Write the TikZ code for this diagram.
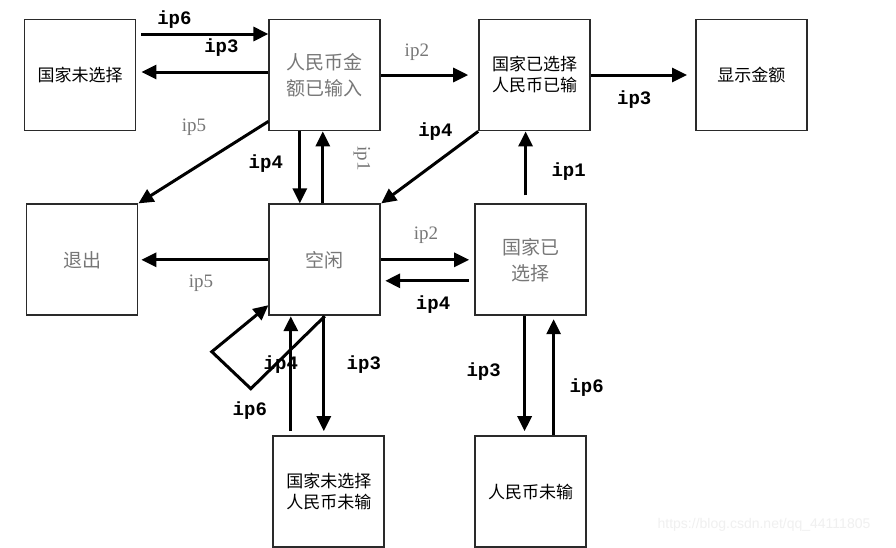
\documentclass[tikz,border=0pt]{standalone}
\usepackage{fontspec}
\setmainfont{Liberation Serif}
\newfontfamily\cjk{Noto Sans CJK SC}
\newfontfamily\codefont{Liberation Mono}
\newfontfamily\wmfont{Liberation Sans}
\usetikzlibrary{positioning, arrows.meta, calc}
\definecolor{framegray}{HTML}{2A2A2A}
\definecolor{softgray}{HTML}{777777}

\begin{document}
\begin{tikzpicture}[x=1pt, y=1pt,
  statebox/.style={rectangle, draw=framegray, line width=1.8pt,
                   minimum width=111pt, minimum height=111pt,
                   inner sep=0pt, align=center,
                   font=\cjk\fontsize{17}{21}\selectfont},
  dim/.style={text=softgray, font=\cjk\fontsize{19}{26}\selectfont},
  arr/.style={-{Triangle[length=15pt,width=14pt]}, line width=3pt},
  boldlbl/.style={font=\codefont\bfseries\fontsize{19}{19}\selectfont, inner sep=0pt},
  greylbl/.style={font=\fontsize{19}{19}\selectfont, text=softgray, inner sep=0pt},
  node distance=72pt and 132pt
]
  \useasboundingbox[fill=white] (0,0) rectangle (896,-547);

  % states
  \node[statebox] (nosel) at (80,-75) {国家未选择};
  \node[statebox, dim, right=132pt of nosel] (amount) {人民币金\\额已输入};
  \node[statebox, right=97pt of amount] (selpaid) {国家已选择\\人民币已输};
  \node[statebox, right=104pt of selpaid] (show) {显示金额};
  \node[statebox, dim, below=72pt of amount] (idle) {空闲};
  \node[statebox, dim, left=130pt of idle] (quit) {退出};
  \node[statebox, dim, right=93pt of idle] (sel) {国家已\\选择};
  \node[statebox, below=119pt of idle, xshift=4pt] (nonepaid) {国家未选择\\人民币未输};
  \node[statebox, below=119pt of sel] (unpaid) {人民币未输};

  % top row
  \draw[arr] ([xshift=5pt,yshift=41pt]nosel.east) --
    node[boldlbl, pos=.26, yshift=14pt] (l-ip6a) {ip6} ([yshift=41pt]amount.west);
  \draw[arr] ([yshift=3pt]amount.west) --
    node[boldlbl, pos=.37, yshift=24pt] (l-ip3a) {ip3} ([xshift=5pt,yshift=3pt]nosel.east);
  \draw[arr] (amount.east) --
    node[greylbl, pos=.41, yshift=23pt] (l-ip2a) {ip2} ([xshift=-10pt]selpaid.west);
  \draw[arr] (selpaid.east) --
    node[boldlbl, pos=.45, yshift=-25pt] (l-ip3b) {ip3} ([xshift=-8pt]show.west);

  % between rows
  \draw[arr] ([yshift=10pt]amount.south west) --
    node[greylbl, pos=.45, xshift=-16pt, yshift=31pt] (l-ip5a) {ip5} (quit.north east);
  \draw[arr] ([xshift=-25pt]amount.south) --
    node[boldlbl, pos=.45, xshift=-34pt] (l-ip4a) {ip4} ([xshift=-25pt]idle.north);
  \draw[arr] ([xshift=-2pt]idle.north) --
    node[greylbl, pos=.62, xshift=39pt, rotate=-90] (l-ip1a) {ip1} ([xshift=-2pt]amount.south);
  \draw[arr] (selpaid.south west) --
    node[boldlbl, pos=.4, xshift=-4pt, yshift=29pt] (l-ip4b) {ip4} (idle.north east);
  \draw[arr] ([xshift=-5pt,yshift=8pt]sel.north) --
    node[boldlbl, pos=.37, xshift=43pt] (l-ip1b) {ip1} ([xshift=-9pt]selpaid.south);

  % middle row
  \draw[arr] (idle.west) --
    node[greylbl, pos=.53, yshift=-23pt] (l-ip5b) {ip5} ([xshift=3pt]quit.east);
  \draw[arr] (idle.east) --
    node[greylbl, pos=.51, yshift=25pt] (l-ip2b) {ip2} ([xshift=-5pt]sel.west);
  \draw[arr] ([xshift=-5pt,yshift=-21pt]sel.west) --
    node[boldlbl, pos=.43, yshift=-24pt] (l-ip4c) {ip4} ([xshift=4pt,yshift=-21pt]idle.east);
  \draw[arr] (idle.south) -- ++(-74,-72.5)
    node[boldlbl, xshift=-1pt, yshift=-22pt] (l-ip6b) {ip6}
    -- ++(-39,37) -- ([yshift=11pt]idle.south west);

  % bottom row
  \draw[arr] ([xshift=-38pt,yshift=4pt]nonepaid.north) --
    node[boldlbl, pos=.58, xshift=-10pt] (l-ip4d) {ip4} ([xshift=-34pt]idle.south);
  \draw[arr] ([xshift=-1pt]idle.south) --
    node[boldlbl, pos=.42, xshift=40pt] (l-ip3c) {ip3} ([xshift=-5pt,yshift=4pt]nonepaid.north);
  \draw[arr] ([xshift=-6pt]sel.south) --
    node[boldlbl, pos=.48, xshift=-41pt] (l-ip3d) {ip3} ([xshift=-6pt,yshift=4pt]unpaid.north);
  \draw[arr] ([xshift=23pt]unpaid.north) --
    node[boldlbl, pos=.41, xshift=33pt] (l-ip6c) {ip6} ([xshift=23pt,yshift=-3pt]sel.south);

  \node[font=\wmfont\fontsize{14}{14}\selectfont, text=black!6] (mark) at (764,-525) {https://blog.csdn.net/qq\_44111805};
\end{tikzpicture}
\end{document}
